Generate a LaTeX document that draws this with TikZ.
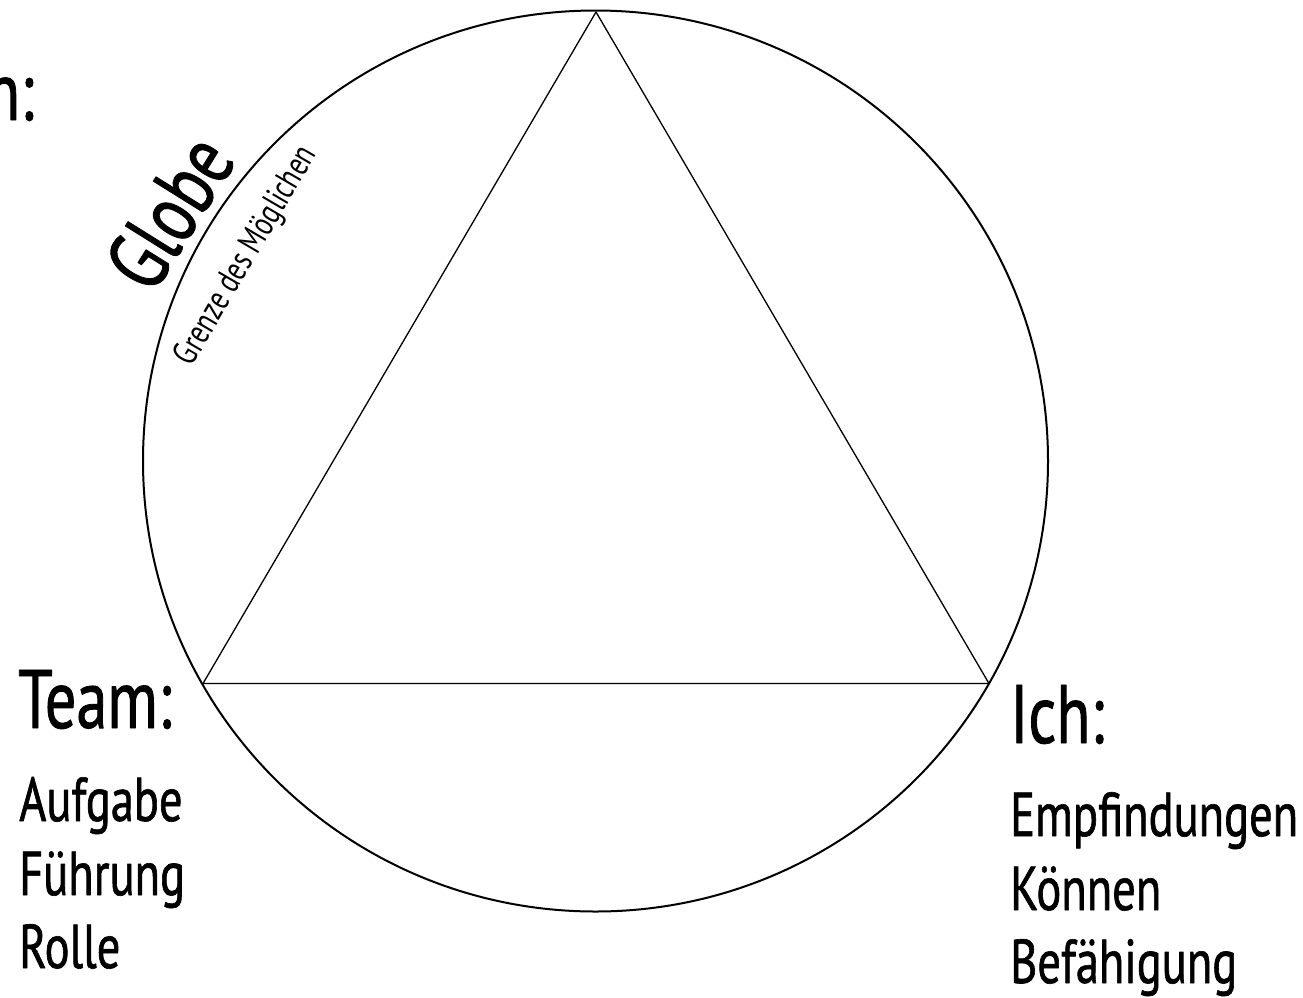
\documentclass[tikz,border=0pt]{standalone}
\usepackage{fontspec}
\setmainfont{PT Sans}[FakeStretch=0.75,FakeBold=1]
\newfontfamily\notefont{PT Sans}[FakeStretch=0.75]
\begin{document}
\begin{tikzpicture}[x=1pt,y=-1pt,line join=round,
  big/.style={font=\fontsize{83}{90}\selectfont, inner sep=0pt, anchor=base west},
  item/.style={font=\fontsize{62}{70}\selectfont, inner sep=0pt, anchor=base west},
  note/.style={font=\notefont\fontsize{35}{40}\selectfont, inner sep=0pt},
  globeline/.style={line width=2pt},
  triline/.style={line width=1.3pt}]
\useasboundingbox (0,0) rectangle (1303,997);
\coordinate (c) at (595.5,461);
\coordinate (top) at (596,12);
\coordinate (bl) at (203,683.5);
\coordinate (br) at (989,683.5);
\draw[globeline] (c) ellipse [x radius=452.5, y radius=450.5];
\draw[triline] (top) -- (bl) -- (br) -- cycle;
\node[big, anchor=base east] (thema) at (34,120) {n:};
\node[big] (team) at (18,728) {Team:};
\node[item] (aufgabe) at (19,821) {Aufgabe};
\node[item] (fuehrung) at (19,895) {Führung};
\node[item] (rolle) at (19,968) {Rolle};
\node[big] (ich) at (1010,743) {Ich:};
\node[item] (empf) at (1010,836) {Empfindungen};
\node[item] (koennen) at (1010,910) {Können};
\node[item] (befaehigung) at (1010,983) {Befähigung};
\node[big, font=\fontsize{86}{92}\selectfont, anchor=base, rotate=58] (globe) at (195,228) {Globe};
\node[note, anchor=center, rotate=59.6] (grenze) at (247,256) {Grenze des Möglichen};
\end{tikzpicture}
\end{document}
